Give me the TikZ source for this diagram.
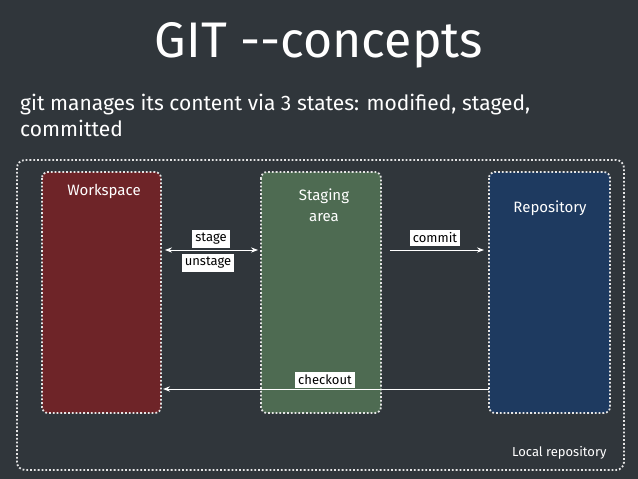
\documentclass[tikz,border=0pt]{standalone}
\usepackage{fontspec}
\setmainfont{Fira Sans}
\usetikzlibrary{arrows.meta}
\definecolor{bg}{HTML}{30363B}
\definecolor{wred}{HTML}{6E2428}
\definecolor{sgreen}{HTML}{4E6B52}
\definecolor{rblue}{HTML}{1E3A60}
\begin{document}
\begin{tikzpicture}[x=1pt,y=-1pt,
  area/.style={draw=white!80!gray,dotted,line width=1.8pt,rounded corners=6pt},
  lbl/.style={fill=white,text=black,font=\fontsize{13}{15}\selectfont,inner sep=3pt},
  arr/.style={draw=white,line width=1pt,-{Stealth[length=7pt]}},
  ttl/.style={text=white,font=\fontsize{15}{21}\selectfont,align=center}]
\fill[bg] (0,0) rectangle (638,479);
\useasboundingbox (0,0) rectangle (638,479);
\node[text=white,font=\fontsize{50}{56}\selectfont] (title) at (319,45) {GIT {-}{-}concepts};
\node[text=white,font=\fontsize{21}{26}\selectfont,anchor=north west,align=left,inner sep=0] (sub) at (20,94) {git manages its content via 3 states: modified, staged,\\committed};
\draw[area,rounded corners=8pt] (17,160) rectangle (624,470);
\node[text=white,font=\fontsize{13}{15}\selectfont,anchor=south east] (local) at (610,463) {Local repository};
\draw[area,fill=wred] (42,172) rectangle (161,413);
\node[ttl] (ws) at (104,191) {Workspace};
\draw[area,fill=sgreen] (261,172) rectangle (381,413);
\node[ttl] (sa) at (324,205) {Staging\\area};
\draw[area,fill=rblue] (489,172) rectangle (610,413);
\node[ttl] (re) at (550,208) {Repository};
\coordinate (w1) at (165,250); \coordinate (s1) at (258,250);
\coordinate (s2) at (390,250); \coordinate (r1) at (484,250);
\coordinate (r2) at (489,389); \coordinate (w2) at (163,389);
\draw[arr,{Stealth[length=7pt]}-{Stealth[length=7pt]}] (w1) -- (s1);
\draw[arr] (s2) -- (r1);
\draw[arr] (r2) -- (w2);
\node[lbl] (stage) at (211,239) {stage};
\node[lbl] (unstage) at (208,263) {unstage};
\node[lbl] (commit) at (435,238) {commit};
\node[lbl] (checkout) at (325,380) {checkout};
\end{tikzpicture}
\end{document}
